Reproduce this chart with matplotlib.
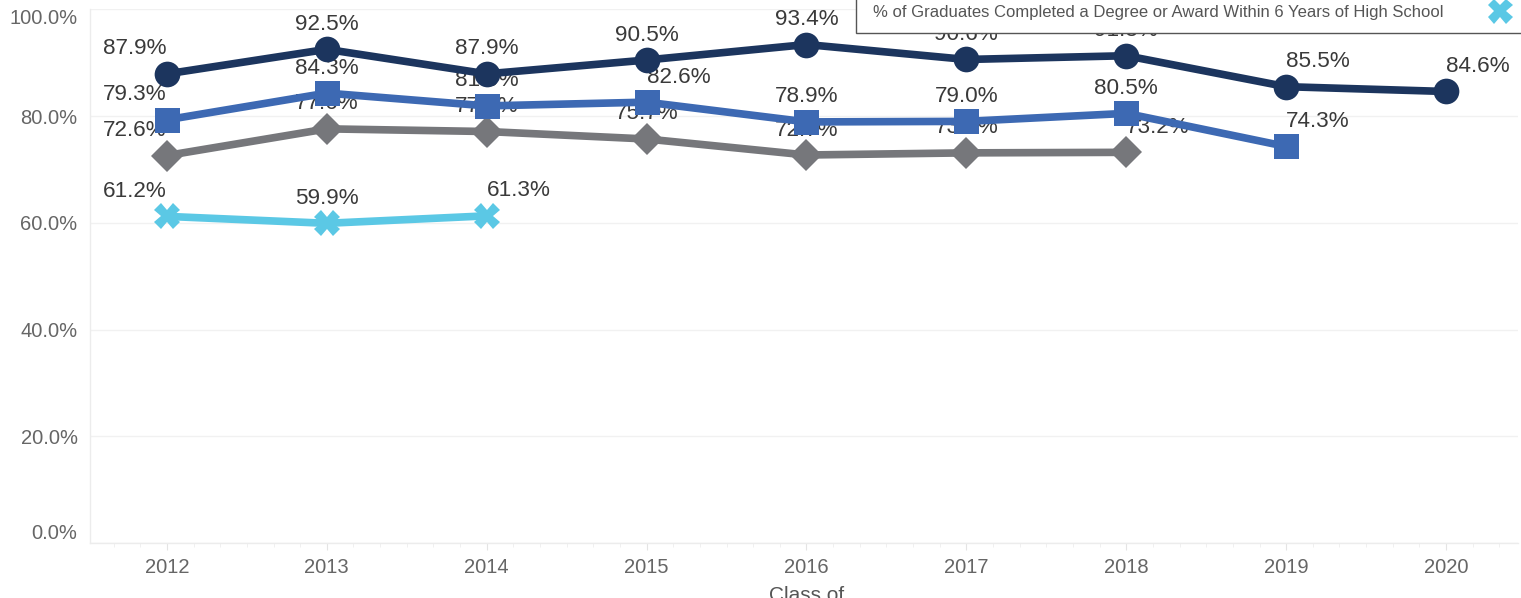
import matplotlib
matplotlib.use("Agg")
import matplotlib.pyplot as plt
from matplotlib.patches import Rectangle
from matplotlib.lines import Line2D
from matplotlib.ticker import FuncFormatter, MultipleLocator

plt.rcParams["font.family"] = ["Liberation Sans", "DejaVu Sans"]

# ---- data ----
years = [2012, 2013, 2014, 2015, 2016, 2017, 2018, 2019, 2020]
navy_vals = [87.9, 92.5, 87.9, 90.5, 93.4, 90.6, 91.3, 85.5, 84.6]
blue_vals = [79.3, 84.3, 81.9, 82.6, 78.9, 79.0, 80.5, 74.3]
grey_vals = [72.6, 77.6, 77.1, 75.7, 72.7, 73.1, 73.2]
cyan_vals = [61.2, 59.9, 61.3]
legend_label = "% of Graduates Completed a Degree or Award Within 6 Years of High School"

# label alignment per point (to dodge overlaps, like the original)
navy_ha = ["right", "center", "center", "center", "center", "center", "center", "left", "left"]
blue_ha = ["right", "center", "center", "left", "center", "center", "center", "left"]
grey_ha = ["right", "center", "center", "center", "center", "center", "left"]
cyan_ha = ["right", "center", "left"]

NAVY = "#1c355e"
BLUE = "#3d69b3"
GREY = "#76777b"
CYAN = "#5bc8e5"

W, H = 1521, 598
fig = plt.figure(figsize=(W / 100, H / 100), dpi=100)
ax = fig.add_axes([90 / W, 55 / H, (1518 - 90) / W, (543 - 9.3) / H])

series = [
    (cyan_vals, CYAN, "X", 18.5, cyan_ha, 2),
    (grey_vals, GREY, "D", 16, grey_ha, 3),
    (blue_vals, BLUE, "s", 18, blue_ha, 4),
    (navy_vals, NAVY, "o", 18.5, navy_ha, 5),
]

for vals, color, marker, ms, has, z in series:
    xs = years[:len(vals)]
    ax.plot(xs, vals, color=color, lw=5.5, marker=marker, markersize=ms,
            markeredgewidth=0, zorder=z, solid_capstyle="round")
    for x, v, ha in zip(xs, vals, has):
        ax.annotate(f"{v:.1f}%", (x, v), xytext=(0, 18), textcoords="offset points",
                    ha=ha, va="center", fontsize=16.2, color="#3a3a3a",
                    zorder=z - 0.5)

ax.set_xlim(2011.519, 2020.45)
ax.set_ylim(0, 100)
ax.set_xticks(years)
ax.xaxis.set_minor_locator(MultipleLocator(1 / 6))
ax.set_yticks([0, 20, 40, 60, 80, 100])
ax.yaxis.set_major_formatter(FuncFormatter(lambda v, p: f"{v:.1f}%"))

ax.grid(axis="y", color="#f1f1f1", lw=1)
ax.set_axisbelow(True)
for s in ["top", "right"]:
    ax.spines[s].set_visible(False)
for s in ["left", "bottom"]:
    ax.spines[s].set_color("#ececec")
    ax.spines[s].set_linewidth(1)

ax.tick_params(axis="x", which="major", length=5, color="#e4e4e4", pad=6,
               labelsize=14.5, labelcolor="#666666")
ax.tick_params(axis="x", which="minor", length=3, color="#eeeeee")
ax.tick_params(axis="y", length=0, pad=9, labelsize=14.5, labelcolor="#666666")

# end labels on the y axis are nudged inside, as in the original
yticks = ax.yaxis.get_major_ticks()
yticks[0].label1.set_verticalalignment("bottom")
yticks[-1].label1.set_verticalalignment("top")

fig.text(807 / W, 1 - 586 / H, "Class of", ha="center", va="top",
         fontsize=15, color="#555555")

# legend box, cut off at the top of the figure
fig.patches.append(Rectangle((856 / W, 1 - 33 / H), 0.5, 0.2,
                             transform=fig.transFigure, facecolor="white",
                             edgecolor="#555555", lw=1, zorder=10))
fig.text(873 / W, 1 - 12 / H, legend_label, ha="left", va="center",
         fontsize=12, color="#555555", zorder=11)
fig.lines.append(Line2D([1500 / W], [1 - 11 / H], transform=fig.transFigure,
                        marker="X", markersize=18, color=CYAN,
                        markeredgewidth=0, zorder=11))

fig.savefig("out.png", dpi=100)
